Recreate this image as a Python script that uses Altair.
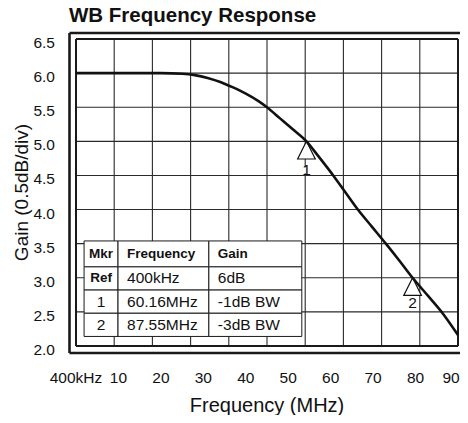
import altair as alt
import pandas as pd

# ---------------- data ----------------
freq_mhz = [0, 5, 10, 15, 20, 25, 28, 31, 34, 37, 40, 43, 45, 48, 51, 54.3,
            57, 60.6, 63.5, 66.4, 69.7, 73, 76.2, 79.3, 83, 86.5, 90]
gain_db = [6.0, 6.0, 6.0, 6.0, 6.0, 5.99, 5.97, 5.93, 5.87, 5.79, 5.70, 5.59,
           5.50, 5.34, 5.18, 5.0, 4.79, 4.5, 4.25, 4.0, 3.75, 3.5, 3.25, 3.0,
           2.73, 2.47, 2.16]

marker_names = ["1", "2"]
marker_x = [54.3, 79.3]
marker_gain = [5.0, 3.0]

x_tick_values = [0, 10, 20, 30, 40, 50, 60, 70, 80, 90]
x_tick_labels = ["400kHz", "10", "20", "30", "40", "50", "60", "70", "80", "90"]
y_tick_values = [2.0, 2.5, 3.0, 3.5, 4.0, 4.5, 5.0, 5.5, 6.0, 6.5]
y_tick_labels = ["2.0", "2.5", "3.0", "3.5", "4.0", "4.5", "5.0", "5.5", "6.0", "6.5"]

grid_x = [9, 18, 27, 36, 45, 54, 63, 72, 81]
grid_y = [2.5, 3.0, 3.5, 4.0, 4.5, 5.0, 5.5, 6.0]

tbl_mkr = ["Mkr", "Ref", "1", "2"]
tbl_freq = ["Frequency", "400kHz", "60.16MHz", "87.55MHz"]
tbl_gain = ["Gain", "6dB", "-1dB BW", "-3dB BW"]

x_title = "Frequency (MHz)"
y_title = "Gain (0.5dB/div)"
chart_title = "WB Frequency Response"

# ---------------- layout ----------------
W, H = 382, 307
X_DOM = [0, 90]
Y_DOM = [2.0, 6.5]
FONT = "Liberation Sans"
INK = "#111111"
GRID = "#2a2a2a"
px_per_db = H / (Y_DOM[1] - Y_DOM[0])

tbl_col_edges = [1.9, 9.9, 31.3, 53.2]
tbl_row_edges = [3.54, 3.16, 2.82, 2.48, 2.14]
marker_label_dy = [29, 25]
frame_out = {"l": -6.5, "r": W + 4, "t": -6, "b": H + 7}

xs = alt.Scale(domain=X_DOM, nice=False, zero=False)
ys = alt.Scale(domain=Y_DOM, nice=False, zero=False)

one = pd.DataFrame({"a": [0]})


def frame_rule(x, x2, y, y2, w):
    return alt.Chart(one).mark_rule(color="#1a1a1a", strokeWidth=w).encode(
        x=alt.value(x), x2=alt.value(x2), y=alt.value(y), y2=alt.value(y2))


def box(l, r, t, b, w):
    return [frame_rule(l, r, t, t, w), frame_rule(l, r, b, b, w),
            frame_rule(l, l, t, b, w), frame_rule(r, r, t, b, w)]


fo = frame_out
outer = box(fo["l"], fo["r"], fo["t"], fo["b"], 2.6)
inner = box(0, W, 0, H, 2)

# grid lines as two-point line segments
seg_rows = []
for gx in grid_x:
    for gy in Y_DOM:
        seg_rows.append({"sx": gx, "sy": gy, "sid": f"v{gx}"})
for gy in grid_y:
    for gx in X_DOM:
        seg_rows.append({"sx": gx, "sy": gy, "sid": f"h{gy}"})
seg_df = pd.DataFrame(seg_rows)
grid = alt.Chart(seg_df).mark_line(color=GRID, strokeWidth=1.1).encode(
    x=alt.X("sx:Q", scale=xs, axis=None),
    y=alt.Y("sy:Q", scale=ys, axis=None),
    detail="sid:N")

# axis labels and titles drawn as text
xlab_df = pd.DataFrame({"xv": x_tick_values, "xl": x_tick_labels})
xlab = alt.Chart(xlab_df[xlab_df.xv < X_DOM[1]]).mark_text(
    font=FONT, fontSize=15.5, color=INK, baseline="middle", align="center").encode(
    x=alt.X("xv:Q", scale=xs, axis=None), y=alt.value(H + 31.5), text="xl:N")
xlab_last = alt.Chart(xlab_df[xlab_df.xv >= X_DOM[1]]).mark_text(
    font=FONT, fontSize=15.5, color=INK, baseline="middle", align="center", dx=-7).encode(
    x=alt.X("xv:Q", scale=xs, axis=None), y=alt.value(H + 31.5), text="xl:N")
ylab = alt.Chart(pd.DataFrame({"yv": y_tick_values, "yl": y_tick_labels})).mark_text(
    font=FONT, fontSize=15.5, color=INK, baseline="middle", align="right", dy=4).encode(
    y=alt.Y("yv:Q", scale=ys, axis=None), x=alt.value(-21), text="yl:N")
xtitle = alt.Chart(pd.DataFrame({"t": [x_title]})).mark_text(
    font=FONT, fontSize=20, color=INK, baseline="middle", align="center").encode(
    x=alt.value(W / 2), y=alt.value(H + 60), text="t:N")
ytitle = alt.Chart(pd.DataFrame({"t": [y_title]})).mark_text(
    font=FONT, fontSize=19, color=INK, baseline="middle", align="center", angle=270).encode(
    x=alt.value(-54), y=alt.value(H / 2), text="t:N")

# table cells
cells = []
texts = []
cols = [tbl_mkr, tbl_freq, tbl_gain]
for r in range(4):
    for c in range(3):
        x0, x1 = tbl_col_edges[c], tbl_col_edges[c + 1]
        y0, y1 = tbl_row_edges[r], tbl_row_edges[r + 1]
        cells.append({"x0": x0, "x1": x1, "y0": y0, "y1": y1})
        bold = (r == 0) or (c == 0 and r == 1)
        texts.append({
            "tx": (x0 + x1) / 2 if c == 0 else x0,
            "ty": (y0 + y1) / 2,
            "t": cols[c][r],
            "center": c == 0,
            "bold": bold,
        })
cells_df = pd.DataFrame(cells)
texts_df = pd.DataFrame(texts)

tbl_rects = alt.Chart(cells_df).mark_rect(fill="white", stroke="#1a1a1a", strokeWidth=1).encode(
    x=alt.X("x0:Q", scale=xs, axis=None), x2="x1:Q",
    y=alt.Y("y0:Q", scale=ys, axis=None), y2="y1:Q")


def tbl_text(df, align, dx, weight, size):
    return alt.Chart(df).mark_text(
        align=align, baseline="middle", dx=dx, font=FONT, fontWeight=weight,
        fontSize=size, color=INK).encode(
        x=alt.X("tx:Q", scale=xs, axis=None),
        y=alt.Y("ty:Q", scale=ys, axis=None),
        text="t:N")


t_bold_c = tbl_text(texts_df[texts_df.bold & texts_df.center], "center", 0, "bold", 13.5)
t_bold_l = tbl_text(texts_df[texts_df.bold & ~texts_df.center], "left", 9, "bold", 13.5)
t_reg_c = tbl_text(texts_df[~texts_df.bold & texts_df.center], "center", 0, "normal", 15.5)
t_reg_l = tbl_text(texts_df[~texts_df.bold & ~texts_df.center], "left", 9, "normal", 15.5)

mk_df = pd.DataFrame({
    "m": marker_names, "f": marker_x, "g": marker_gain,
    "lg": [g - d / px_per_db for g, d in zip(marker_gain, marker_label_dy)],
})
tri = alt.Chart(mk_df).mark_point(
    shape="M0,0L-0.95,1.9L0.95,1.9Z", size=345, filled=True, fill="white",
    stroke=INK, strokeWidth=1.2, opacity=1).encode(
    x=alt.X("f:Q", scale=xs, axis=None), y=alt.Y("g:Q", scale=ys, axis=None))
lbl_bg = alt.Chart(mk_df).mark_point(
    shape="M-1.2,-0.65L1.2,-0.65L1.2,0.65L-1.2,0.65Z", size=80, filled=True,
    fill="white", opacity=1, strokeWidth=0).encode(
    x=alt.X("f:Q", scale=xs, axis=None), y=alt.Y("lg:Q", scale=ys, axis=None))
lbl = alt.Chart(mk_df).mark_text(
    font=FONT, fontSize=15.5, color=INK, baseline="middle", align="center").encode(
    x=alt.X("f:Q", scale=xs, axis=None), y=alt.Y("lg:Q", scale=ys, axis=None),
    text="m:N")

curve = alt.Chart(pd.DataFrame({"f": freq_mhz, "g": gain_db})).mark_line(
    color=INK, strokeWidth=2.6, interpolate="monotone"
).encode(
    x=alt.X("f:Q", scale=xs, axis=None),
    y=alt.Y("g:Q", scale=ys, axis=None),
)

chart = alt.layer(
    grid, *outer, *inner, xlab, xlab_last, ylab, xtitle, ytitle,
    tbl_rects, t_bold_c, t_bold_l, t_reg_c, t_reg_l, lbl_bg, lbl, tri, curve
).properties(
    width=W, height=H,
    title=alt.TitleParams(chart_title, anchor="start", fontSize=20.5,
                          font=FONT, fontWeight="bold", color=INK, dx=-7,
                          offset=5, frame="group"),
    padding={"left": 68, "top": 31, "right": 2, "bottom": 69},
    autosize=alt.AutoSizeParams(type="none"),
).configure(background="white")

chart.save("out.html", embed_options={"renderer": "svg", "actions": False})
